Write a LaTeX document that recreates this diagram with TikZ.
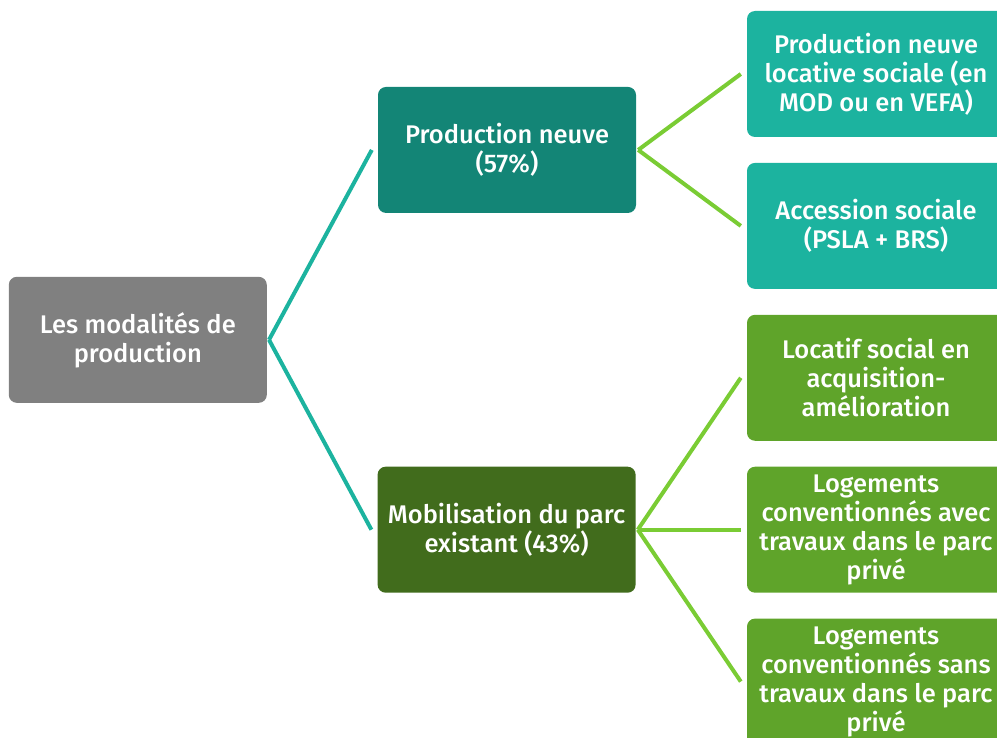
\documentclass[tikz,border=0pt]{standalone}
\usepackage{fontspec}
\setsansfont{Fira Sans}[UprightFont=* Medium]
\usetikzlibrary{positioning}
\usetikzlibrary{calc}

\definecolor{rootgray}{HTML}{808080}
\definecolor{darkteal}{HTML}{138576}
\definecolor{lightteal}{HTML}{1CB39F}
\definecolor{darkgreen}{HTML}{416C1C}
\definecolor{midgreen}{HTML}{5FA42A}
\definecolor{linegreen}{HTML}{7ACC34}

\begin{document}
\begin{tikzpicture}[x=1pt,y=1pt,font=\sffamily\fontsize{25.5}{29}\selectfont,
                      node distance=25.5pt and 111pt,
                      box/.style={rounded corners=8pt,minimum width=258pt,minimum height=126pt,
                                  align=center,text=white,inner sep=0pt},
                      rootbox/.style={box,fill=rootgray},
                      nbranch/.style={box,fill=darkteal},
                      pbranch/.style={box,fill=darkgreen},
                      nleaf/.style={box,fill=lightteal},
                      pleaf/.style={box,fill=midgreen},
                      tlink/.style={draw=lightteal,line width=4pt},
                      glink/.style={draw=linegreen,line width=4pt},
                      ]
    \useasboundingbox (0,0) rectangle (997,-738);
    \clip (0,0) rectangle (997,-738);

    % right column
    \node[nleaf] (locsoc) at (876,-74) {Production neuve\\locative sociale (en\\MOD ou en VEFA)};
    \node[nleaf,below=of locsoc] (accsoc) {Accession sociale\\(PSLA + BRS)};
    \node[pleaf,below=of accsoc] (acqam) {Locatif social en\\acquisition-\\amélioration};
    \node[pleaf,below=of acqam] (convavec) {Logements\\conventionnés avec\\travaux dans le parc\\privé};
    \node[pleaf,below=of convavec] (convsans) {Logements\\conventionnés sans\\travaux dans le parc\\privé};

    % middle column
    \node[nbranch] (prodneuve) at ($(locsoc)!.5!(accsoc)+(-369,0)$) {Production neuve\\(57\%)};
    \node[pbranch,left=of convavec] (mobparc) {Mobilisation du parc\\existant (43\%)};

    % root
    \node[rootbox] (modalites) at ($(prodneuve)!.5!(mobparc)+(-369,0)$) {Les modalités de\\production};

    \draw[tlink] ([xshift=2pt]modalites.east) -- ([xshift=-6pt]prodneuve.west);
    \draw[tlink] ([xshift=2pt]modalites.east) -- ([xshift=-6pt]mobparc.west);

    \draw[glink] ([xshift=2pt]prodneuve.east) -- ([xshift=-6pt]locsoc.west);
    \draw[glink] ([xshift=2pt]prodneuve.east) -- ([xshift=-6pt]accsoc.west);

    \draw[glink] ([xshift=2pt]mobparc.east) -- ([xshift=-6pt]acqam.west);
    \draw[glink] ([xshift=2pt]mobparc.east) -- ([xshift=-6pt]convavec.west);
    \draw[glink] ([xshift=2pt]mobparc.east) -- ([xshift=-6pt]convsans.west);
\end{tikzpicture}
\end{document}
